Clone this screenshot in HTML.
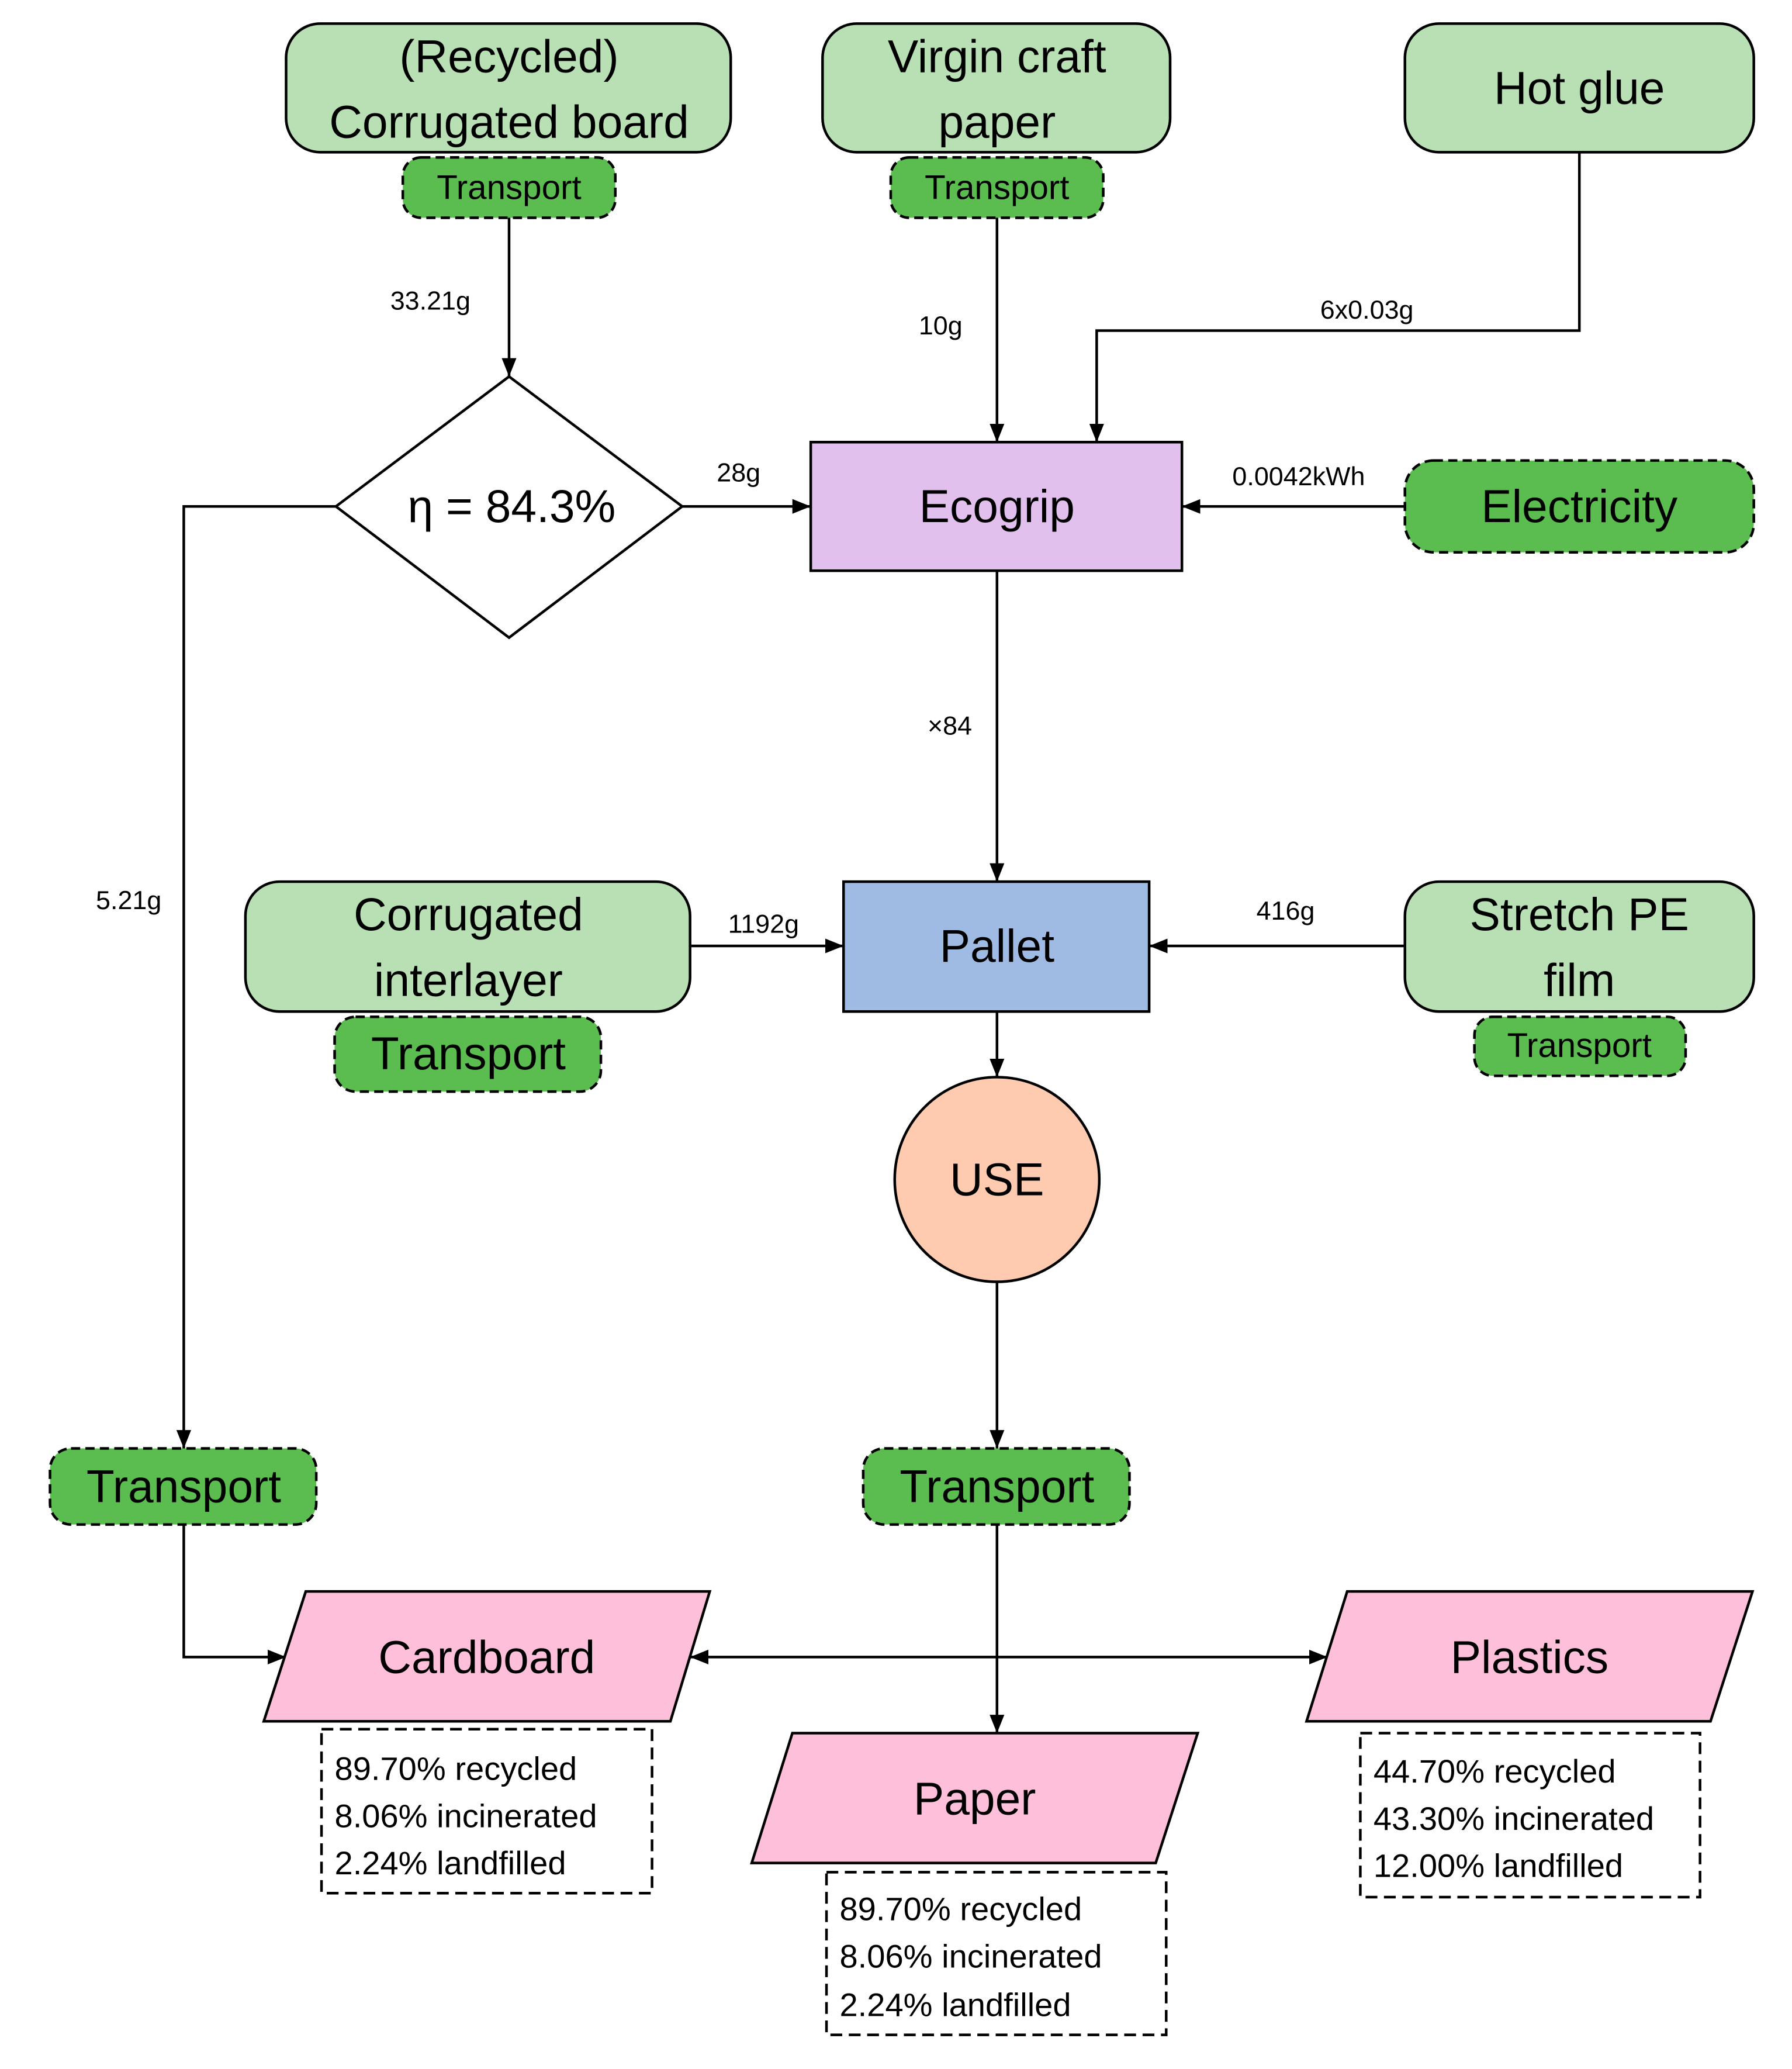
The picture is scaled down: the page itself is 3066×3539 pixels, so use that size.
<!DOCTYPE html>
<html><head><meta charset="utf-8"><style>html,body{margin:0;padding:0;background:#fff}svg{display:block}</style></head>
<body>
<svg width="3066" height="3539" viewBox="0 0 1366 1577" xmlns="http://www.w3.org/2000/svg" font-family="Liberation Sans, DejaVu Sans, sans-serif">
<defs>
<marker id="a" viewBox="0 0 10 10" refX="10" refY="5" markerWidth="7" markerHeight="7" orient="auto-start-reverse" markerUnits="userSpaceOnUse"><path d="M0,0 L10,5 L0,10 z" fill="#000"/></marker>
<marker id="b" viewBox="0 0 10 10" refX="10" refY="5" markerWidth="14" markerHeight="14" orient="auto-start-reverse" markerUnits="userSpaceOnUse"><path d="M0,1 L10,5 L0,9 z" fill="#000"/></marker>
</defs>
<g stroke="#000" stroke-width="2" fill="none">
<!-- connectors -->
<line x1="388" y1="166" x2="388" y2="287" marker-end="url(#b)"/>
<line x1="760" y1="166" x2="760" y2="337" marker-end="url(#b)"/>
<polyline points="1204,116 1204,252 836,252 836,337" marker-end="url(#b)"/>
<line x1="520" y1="386" x2="618" y2="386" marker-end="url(#b)"/>
<line x1="1071" y1="386" x2="901" y2="386" marker-end="url(#b)"/>
<line x1="760" y1="435" x2="760" y2="672" marker-end="url(#b)"/>
<line x1="526" y1="721" x2="643" y2="721" marker-end="url(#b)"/>
<line x1="1071" y1="721" x2="876" y2="721" marker-end="url(#b)"/>
<line x1="760" y1="771" x2="760" y2="821" marker-end="url(#b)"/>
<line x1="760" y1="977" x2="760" y2="1104" marker-end="url(#b)"/>
<polyline points="256,386 140,386 140,1104" marker-end="url(#b)"/>
<polyline points="140,1162 140,1263 218,1263" marker-end="url(#b)"/>
<line x1="760" y1="1162" x2="760" y2="1321" marker-end="url(#b)"/>
<line x1="760" y1="1263" x2="526" y2="1263" marker-end="url(#b)"/>
<line x1="760" y1="1263" x2="1012" y2="1263" marker-end="url(#b)"/>
</g>
<g stroke="#000" stroke-width="2">
<rect x="218" y="18" width="339" height="98" rx="26" fill="#b9e0b4"/>
<rect x="627" y="18" width="265" height="98" rx="26" fill="#b9e0b4"/>
<rect x="1071" y="18" width="266" height="98" rx="26" fill="#b9e0b4"/>
<rect x="187" y="672" width="339" height="99" rx="26" fill="#b9e0b4"/>
<rect x="1071" y="672" width="266" height="99" rx="26" fill="#b9e0b4"/>
<g stroke-dasharray="7,4" fill="#5bbd4f">
<rect x="307" y="120" width="162" height="46" rx="14"/>
<rect x="679" y="120" width="162" height="46" rx="14"/>
<rect x="1071" y="351" width="266" height="70" rx="22"/>
<rect x="255" y="775" width="203" height="57" rx="16"/>
<rect x="1124" y="775" width="161" height="45" rx="14"/>
<rect x="38" y="1104" width="203" height="58" rx="16"/>
<rect x="658" y="1104" width="203" height="58" rx="16"/>
</g>
<polygon points="388,287 520,386 388,486 256,386" fill="#fff"/>
<rect x="618" y="337" width="283" height="98" fill="#e2c0ee"/>
<rect x="643" y="672" width="233" height="99" fill="#9fbbe3"/>
<circle cx="760" cy="899" r="78" fill="#fecbb0"/>
<polygon points="233,1213 541,1213 511,1312 201,1312" fill="#fdbfda"/>
<polygon points="1027,1213 1336,1213 1304,1312 996,1312" fill="#fdbfda"/>
<polygon points="604,1321 913,1321 881,1420 573,1420" fill="#fdbfda"/>
<g fill="none" stroke-dasharray="9,5">
<rect x="245" y="1318" width="252" height="125"/>
<rect x="630" y="1427" width="259" height="124"/>
<rect x="1037" y="1321" width="259" height="125"/>
</g>
</g>
<g fill="#000" text-anchor="middle" dominant-baseline="central">
<g font-size="35">
<text x="388" y="43">(Recycled)</text>
<text x="388" y="93">Corrugated board</text>
<text x="760" y="43">Virgin craft</text>
<text x="760" y="93">paper</text>
<text x="1204" y="67">Hot glue</text>
<text x="390" y="386">η  = 84.3%</text>
<text x="760" y="386">Ecogrip</text>
<text x="1204" y="386">Electricity</text>
<text x="357" y="697">Corrugated</text>
<text x="357" y="747">interlayer</text>
<text x="357" y="803">Transport</text>
<text x="760" y="721">Pallet</text>
<text x="1204" y="697">Stretch PE</text>
<text x="1204" y="747">film</text>
<text x="760" y="899">USE</text>
<text x="140" y="1133">Transport</text>
<text x="760" y="1133">Transport</text>
<text x="371" y="1263">Cardboard</text>
<text x="1166" y="1263">Plastics</text>
<text x="743" y="1371">Paper</text>
</g>
<g font-size="26">
<text x="388" y="143">Transport</text>
<text x="760" y="143">Transport</text>
<text x="1204" y="797">Transport</text>
</g>
<g font-size="20">
<text x="328" y="229">33.21g</text>
<text x="717" y="248">10g</text>
<text x="1042" y="236">6x0.03g</text>
<text x="563" y="360">28g</text>
<text x="990" y="363">0.0042kWh</text>
<text x="724" y="553">×84</text>
<text x="582" y="704">1192g</text>
<text x="980" y="694">416g</text>
<text x="98" y="686">5.21g</text>
</g>
<g font-size="25" text-anchor="start">
<text x="255" y="1348">89.70% recycled</text>
<text x="255" y="1384">8.06% incinerated</text>
<text x="255" y="1420">2.24% landfilled</text>
<text x="640" y="1455">89.70% recycled</text>
<text x="640" y="1491">8.06% incinerated</text>
<text x="640" y="1528">2.24% landfilled</text>
<text x="1047" y="1350">44.70% recycled</text>
<text x="1047" y="1386">43.30% incinerated</text>
<text x="1047" y="1422">12.00% landfilled</text>
</g>
</g>
</svg>
</body></html>
